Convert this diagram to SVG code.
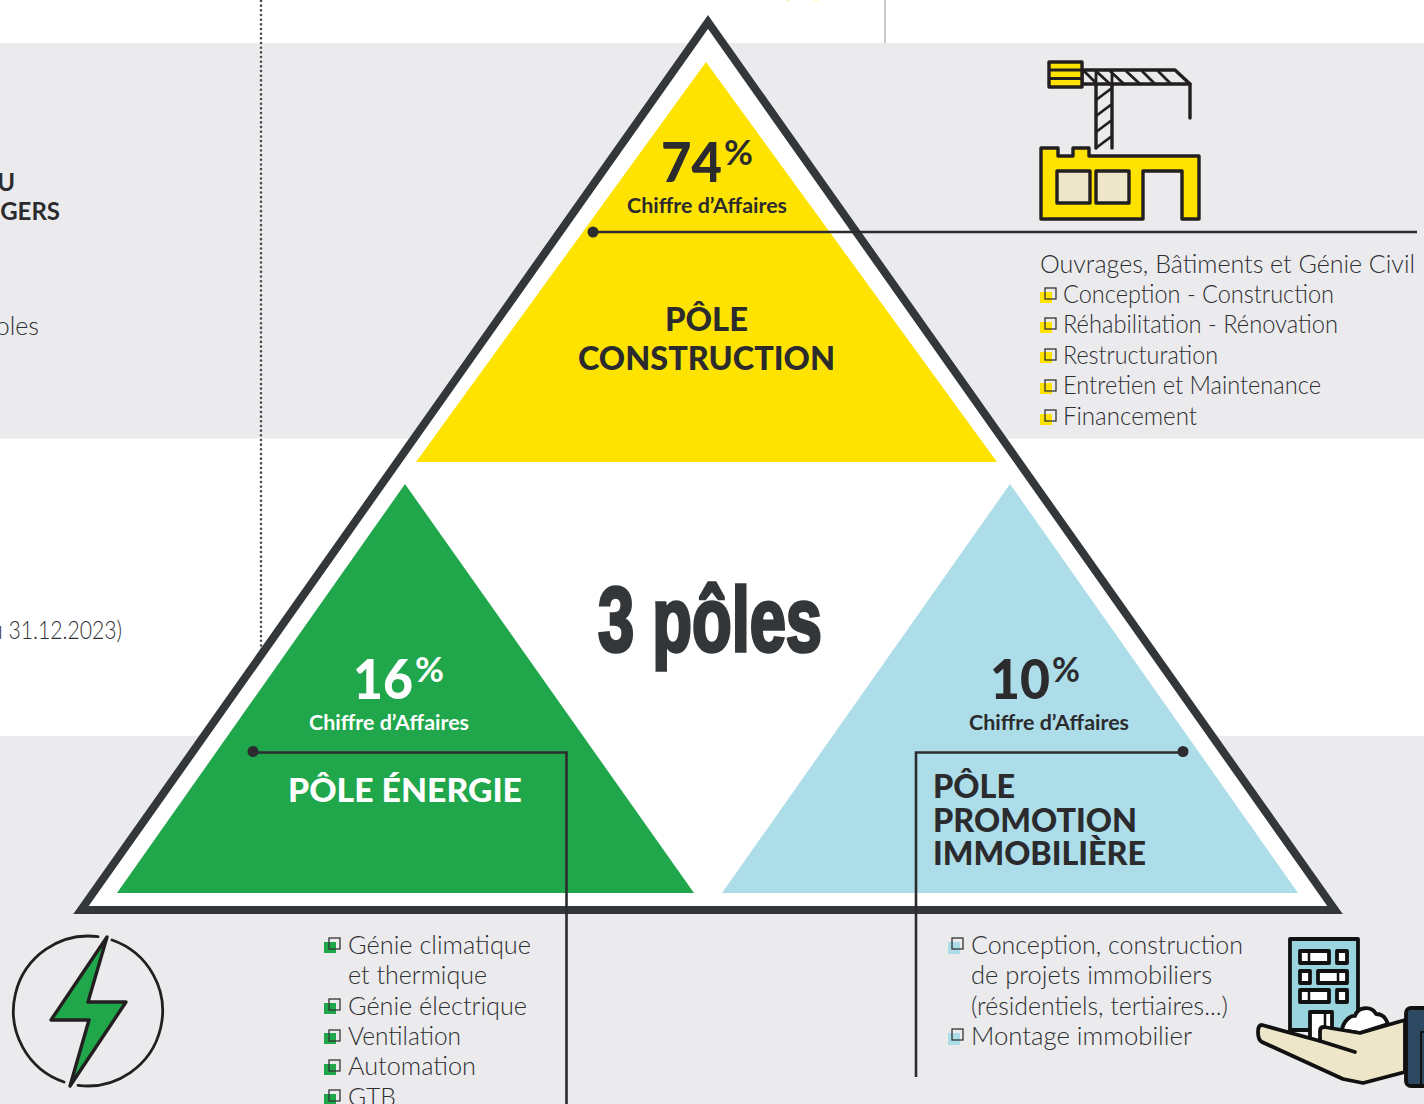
<svg xmlns="http://www.w3.org/2000/svg" width="1424" height="1104" viewBox="0 0 1424 1104">
<style>
text{font-family:"Lato","Liberation Sans",sans-serif}
.b{font-weight:700}
.body{font-weight:300;font-size:25px;fill:#2e2f32}
.ca{font-weight:700;font-size:20.500px}
.title{font-weight:900;font-size:33px}
.pct{font-weight:900;font-size:56px;stroke-width:1.200}
.sup{font-weight:700;font-size:34px}
.dk{fill:#2b2b2e;stroke:#2b2b2e;stroke-width:0}
.wh{fill:#fff;stroke:#fff;stroke-width:0}
.box{fill:none;stroke:#333;stroke-width:1.3}
.ic{stroke:#231f20;stroke-width:3.4;stroke-linejoin:round;stroke-linecap:round}
.ln{fill:none;stroke:#2c2c30;stroke-width:2.6}
</style>
<defs>
<g id="bb"><rect x="5" y="-5" width="11" height="11" class="box"/></g>
</defs>
<rect width="1424" height="1104" fill="#fff"/>
<g id="bands">
<rect x="0" y="43" width="1424" height="395.500" fill="#ebebed"/>
<rect x="0" y="736" width="1424" height="368" fill="#ebebed"/>
<line x1="885" y1="0" x2="885" y2="43" stroke="#bdbdbd" stroke-width="1.600"/>
<line x1="261" y1="1" x2="261" y2="915" stroke="#4a4a4d" stroke-width="2.600" stroke-linecap="round" stroke-dasharray="0 4.670"/>
<ellipse cx="788" cy="0" rx="2" ry="1" fill="#fff3a0"/>
<ellipse cx="816" cy="0" rx="2" ry="1" fill="#fff3a0"/>
</g>
<g id="left-text">
<text x="15" y="191" text-anchor="end" class="b dk" font-size="24">U</text>
<text x="60" y="220" text-anchor="end" class="b dk" font-size="24">GERS</text>
<text x="39" y="335" text-anchor="end" class="body">oles</text>
<text x="-9" y="639" class="body" textLength="131" lengthAdjust="spacingAndGlyphs">u 31.12.2023)</text>
</g>
<g id="pyramid">
<polygon points="708,22 1335,910 81,910" fill="#fff" stroke="#343739" stroke-width="8"/>
</g>
<g id="pole-construction">
<polygon points="706,62 997,462 416,462" fill="#ffe300"/>
<text x="661" y="182" class="dk pct" textLength="61" lengthAdjust="spacingAndGlyphs">74</text>
<text x="724" y="165" class="sup dk" textLength="29" lengthAdjust="spacingAndGlyphs">%</text>
<text x="627" y="213" class="ca dk" textLength="160" lengthAdjust="spacingAndGlyphs">Chiffre d’Affaires</text>
<text x="665" y="331" class="title dk" textLength="83" lengthAdjust="spacingAndGlyphs">PÔLE</text>
<text x="578" y="370" class="title dk" textLength="257" lengthAdjust="spacingAndGlyphs">CONSTRUCTION</text>
</g>
<g id="pole-energie">
<polygon points="405,484 694,893 117,893" fill="#20a64b"/>
<text x="353" y="699" class="wh pct" textLength="60" lengthAdjust="spacingAndGlyphs">16</text>
<text x="415" y="682" class="sup wh" textLength="29" lengthAdjust="spacingAndGlyphs">%</text>
<text x="309" y="730" class="ca wh" textLength="160" lengthAdjust="spacingAndGlyphs">Chiffre d’Affaires</text>
<text x="288" y="802" class="title wh" textLength="234" lengthAdjust="spacingAndGlyphs">PÔLE ÉNERGIE</text>
</g>
<g id="pole-promotion">
<polygon points="1010,484 1298,893 722,893" fill="#acdde9"/>
<text x="990" y="699" class="dk pct" textLength="60" lengthAdjust="spacingAndGlyphs">10</text>
<text x="1052" y="682" class="sup dk" textLength="28" lengthAdjust="spacingAndGlyphs">%</text>
<text x="969" y="730" class="ca dk" textLength="160" lengthAdjust="spacingAndGlyphs">Chiffre d’Affaires</text>
<text x="933" y="798" class="title dk" textLength="82" lengthAdjust="spacingAndGlyphs">PÔLE</text>
<text x="933" y="832" class="title dk" textLength="204" lengthAdjust="spacingAndGlyphs">PROMOTION</text>
<text x="933" y="865" class="title dk" textLength="213" lengthAdjust="spacingAndGlyphs">IMMOBILIÈRE</text>
</g>
<g id="center-title">
<text x="598" y="651" font-size="90" font-weight="700" style="font-family:'Liberation Sans',sans-serif" fill="#343739" stroke="#343739" stroke-width="3.500" textLength="224" lengthAdjust="spacingAndGlyphs">3 pôles</text>
</g>
<g id="connectors">
<path class="ln" d="M593,232H1417"/>
<circle cx="593" cy="232" r="5.500" fill="#2c2c30"/>
<path class="ln" d="M253,752.500H566.500V1104"/>
<circle cx="253" cy="751.500" r="5.500" fill="#2c2c30"/>
<path class="ln" d="M1183,752.500H916V1077"/>
<circle cx="1183" cy="751.500" r="5.500" fill="#2c2c30"/>
</g>
<g id="list-construction">
<text x="1040" y="273" class="body" textLength="375" lengthAdjust="spacingAndGlyphs">Ouvrages, Bâtiments et Génie Civil</text>
<g fill="#ffe300">
<rect x="1040" y="292" width="12" height="11"/><rect x="1040" y="322" width="12" height="11"/><rect x="1040" y="352" width="12" height="11"/><rect x="1040" y="383" width="12" height="11"/><rect x="1040" y="414" width="12" height="11"/>
</g>
<use href="#bb" x="1040" y="293"/><use href="#bb" x="1040" y="323"/><use href="#bb" x="1040" y="354"/><use href="#bb" x="1040" y="385"/><use href="#bb" x="1040" y="415"/>
<text x="1063" y="303" class="body" textLength="271" lengthAdjust="spacingAndGlyphs">Conception - Construction</text>
<text x="1063" y="333" class="body" textLength="275" lengthAdjust="spacingAndGlyphs">Réhabilitation - Rénovation</text>
<text x="1063" y="364" class="body" textLength="155" lengthAdjust="spacingAndGlyphs">Restructuration</text>
<text x="1063" y="394" class="body" textLength="258" lengthAdjust="spacingAndGlyphs">Entretien et Maintenance</text>
<text x="1063" y="425" class="body" textLength="134" lengthAdjust="spacingAndGlyphs">Financement</text>
</g>
<g id="list-energie">
<g fill="#20a64b">
<rect x="324" y="942" width="12" height="11"/><rect x="324" y="1003" width="12" height="11"/><rect x="324" y="1033" width="12" height="11"/><rect x="324" y="1064" width="12" height="11"/><rect x="324" y="1094" width="12" height="10"/>
</g>
<use href="#bb" x="324" y="943"/><use href="#bb" x="324" y="1004"/><use href="#bb" x="324" y="1035"/><use href="#bb" x="324" y="1065"/><use href="#bb" x="324" y="1095"/>
<text x="348" y="954" class="body" textLength="183" lengthAdjust="spacingAndGlyphs">Génie climatique</text>
<text x="348" y="984" class="body" textLength="139" lengthAdjust="spacingAndGlyphs">et thermique</text>
<text x="348" y="1015" class="body" textLength="179" lengthAdjust="spacingAndGlyphs">Génie électrique</text>
<text x="348" y="1045" class="body" textLength="113" lengthAdjust="spacingAndGlyphs">Ventilation</text>
<text x="348" y="1075" class="body" textLength="128" lengthAdjust="spacingAndGlyphs">Automation</text>
<text x="348" y="1106" class="body" textLength="48" lengthAdjust="spacingAndGlyphs">GTB</text>
</g>
<g id="list-promotion">
<g fill="#acdde9">
<rect x="948" y="942" width="12" height="12"/><rect x="948" y="1033" width="12" height="12"/>
</g>
<use href="#bb" x="947" y="943"/><use href="#bb" x="947" y="1034"/>
<text x="971" y="954" class="body" textLength="272" lengthAdjust="spacingAndGlyphs">Conception, construction</text>
<text x="971" y="984" class="body" textLength="241" lengthAdjust="spacingAndGlyphs">de projets immobiliers</text>
<text x="971" y="1015" class="body" textLength="257" lengthAdjust="spacingAndGlyphs">(résidentiels, tertiaires...)</text>
<text x="971" y="1045" class="body" textLength="221" lengthAdjust="spacingAndGlyphs">Montage immobilier</text>
</g>
<g id="icon-crane" class="ic" fill="none">
<path d="M1082,70H1175L1190,84H1082Z" fill="#ebebed"/>
<path d="M1096,86V148M1112,86V148M1190,84V118"/>
<path d="M1084,71L1097,84M1096,71L1110,84M1110,71L1124,84M1126,71L1140,84M1142,71L1155,84M1158,71L1171,84M1096,100L1112,88M1096,116L1112,104M1096,132L1112,120M1096,148L1112,136M1096,71V86M1112,71V86" stroke-width="2.800"/>
<rect x="1049" y="62" width="33" height="25" fill="#ffe300"/>
<path d="M1050,70H1081M1050,78.500H1081" stroke-width="2.800"/>
<path d="M1041,148H1058V156H1073V148H1089V156H1199V219H1182V171H1143V219H1041Z" fill="#ffe300"/>
<rect x="1057" y="171" width="33" height="32" fill="#ede6c8"/>
<rect x="1096" y="171" width="33" height="32" fill="#ede6c8"/>
</g>
<g id="icon-bolt" class="ic" fill="none">
<path d="M98,936.700A75,75 0 0 0 64,1082M78,1085.300A75,75 0 0 0 112,940" stroke-width="2.800"/>
<path d="M107,937L88,1002H126L70,1086L89,1020H51Z" fill="#20a64b"/>
</g>
<g id="icon-building" class="ic" fill="none" style="stroke-width:3.800;stroke:#111">
<path d="M1290,1045V939H1358V1030H1290" fill="#9ad5df"/>
<rect x="1300" y="951" width="29" height="12" fill="#fff"/><rect x="1337" y="951" width="10" height="12" fill="#fff"/>
<rect x="1300" y="971" width="10" height="12" fill="#fff"/><rect x="1318" y="971" width="29" height="12" fill="#fff"/>
<rect x="1300" y="990" width="29" height="12" fill="#fff"/><rect x="1337" y="990" width="10" height="12" fill="#fff"/>
<path d="M1309,951V963M1309,990V1002M1338,971V983" stroke-width="2.500"/>
<path d="M1310,1045V1012H1332V1040" fill="#fff"/>
<path d="M1325,1012V1030" stroke-width="2.500"/>
<path d="M1342,1030C1343,1022 1350,1015 1355,1016C1358,1006 1372,1006 1376,1014C1382,1014 1386,1018 1388,1024L1360,1033Z" fill="#fff"/>
<path d="M1262,1025L1320,1041V1031Q1320,1027 1324,1027L1360,1033L1405,1020V1072L1363,1083L1343,1079L1262,1042Q1258,1040 1258,1032Q1258,1025 1262,1025Z" fill="#ede6c8"/>
<path d="M1320,1041L1355,1052"/>
<rect x="1406" y="1008" width="30" height="78" rx="5" fill="#2e4a62"/>
<path d="M1424,1032H1421V1086" stroke-width="2"/>
</g>
</svg>
